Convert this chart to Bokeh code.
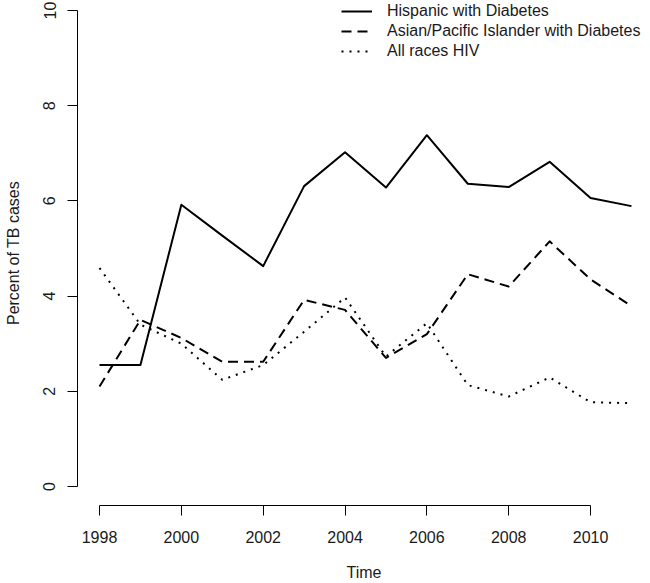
from bokeh.plotting import figure
from bokeh.models import (ColumnDataSource, Range1d, FixedTicker, Legend, LegendItem)
from bokeh.embed import file_html
from bokeh.resources import INLINE

years = list(range(1998, 2012))
hispanic_diabetes = [2.55, 2.55, 5.92, 5.27, 4.63, 6.31, 7.02, 6.28, 7.38, 6.36, 6.29, 6.82, 6.06, 5.89]
asian_pi_diabetes = [2.10, 3.50, 3.12, 2.62, 2.62, 3.92, 3.71, 2.70, 3.20, 4.46, 4.20, 5.15, 4.35, 3.79]
all_races_hiv = [4.59, 3.40, 3.00, 2.24, 2.55, 3.25, 3.97, 2.73, 3.43, 2.13, 1.89, 2.29, 1.77, 1.75]

series_names = ["Hispanic with Diabetes", "Asian/Pacific Islander with Diabetes", "All races HIV"]
x_ticks = [1998, 2000, 2002, 2004, 2006, 2008, 2010]
y_ticks = [0, 2, 4, 6, 8, 10]

FONT = "Liberation Sans"
TXT = "#1a1a1a"

src = ColumnDataSource(dict(year=years, h=hispanic_diabetes, a=asian_pi_diabetes, v=all_races_hiv))

p = figure(width=650, height=583, output_backend="svg", toolbar_location=None,
           x_range=Range1d(1997.462, 2011.465), y_range=Range1d(-0.4, 10.21),
           min_border_left=77, min_border_right=0, min_border_top=0, min_border_bottom=77)
p.outline_line_color = None
p.grid.visible = False
p.background_fill_color = "white"
p.border_fill_color = "white"

r1 = p.line("year", "h", source=src, line_color="black", line_width=2, line_join="round")
r2 = p.line("year", "a", source=src, line_color="black", line_width=2, line_join="round",
            line_dash="10 6")
r3 = p.line("year", "v", source=src, line_color="black", line_width=2, line_join="round",
            line_dash="2 6")

for ax in (p.xaxis[0], p.yaxis[0]):
    ax.axis_line_color = "black"
    ax.axis_line_width = 1
    ax.major_tick_line_color = "black"
    ax.major_tick_line_width = 1
    ax.major_tick_out = 10
    ax.major_tick_in = 0
    ax.minor_tick_line_color = None
    ax.major_label_text_font = FONT
    ax.major_label_text_font_size = "16px"
    ax.major_label_text_color = TXT
    ax.axis_label_text_font = FONT
    ax.axis_label_text_font_size = "16px"
    ax.axis_label_text_font_style = "normal"
    ax.axis_label_text_color = TXT

p.xaxis.ticker = FixedTicker(ticks=x_ticks)
p.xaxis.bounds = (1998, 2010)
p.xaxis.major_label_standoff = 15
p.xaxis.axis_label = "Time"
p.xaxis.axis_label_standoff = 18

p.yaxis.ticker = FixedTicker(ticks=y_ticks)
p.yaxis.bounds = (0, 10)
p.yaxis.major_label_orientation = "vertical"
p.yaxis.major_label_standoff = 12
p.yaxis.axis_label = "Percent of TB cases"
p.yaxis.axis_label_standoff = 19

legend = Legend(items=[LegendItem(label=series_names[0], renderers=[r1]),
                       LegendItem(label=series_names[1], renderers=[r2]),
                       LegendItem(label=series_names[2], renderers=[r3])],
                location=(264, 444), orientation="vertical",
                glyph_width=31, glyph_height=20, label_height=20, label_standoff=15,
                spacing=0, padding=0, margin=0,
                label_text_font=FONT, label_text_font_size="16px", label_text_color=TXT,
                border_line_color=None, background_fill_alpha=0)
p.add_layout(legend)

open("out.html", "w").write(file_html(p, INLINE))
